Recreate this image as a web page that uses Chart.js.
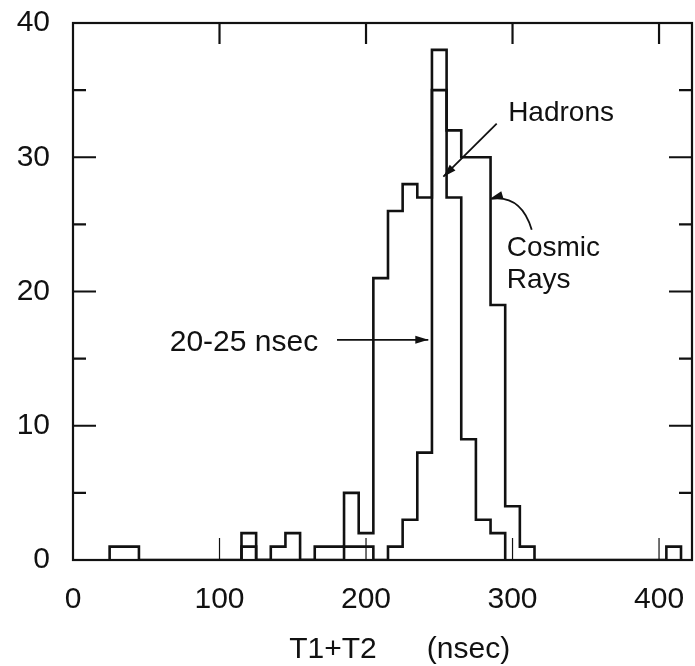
<!DOCTYPE html>
<html>
<head>
<meta charset="utf-8">
<script src="https://cdn.jsdelivr.net/npm/chart.js@4.4.1/dist/chart.umd.min.js"></script>
<style>
	html, body { margin: 0; padding: 0; background: #fff; }
	#wrap { width: 695px; height: 666px; }
</style>
</head>
<body>
<div id="wrap"><canvas id="mycanvas" width="695" height="666"></canvas></div>
<script>
// histogram bins, 10 nsec wide, given by their centres
const binWidth = 10;

// hadron events (narrow peak)
const hadronBins = [120, 190, 200, 220, 230, 240, 250, 260, 270, 280, 290];
const hadronCounts = [1, 1, 1, 1, 3, 8, 38, 27, 9, 3, 2];

// cosmic ray events (broad peak)
const cosmicBins = [30, 40, 120, 140, 150, 170, 180, 190, 200, 210, 220, 230, 240, 250, 260, 270, 280, 290, 300, 310, 410];
const cosmicCounts = [1, 1, 2, 1, 2, 1, 1, 5, 2, 21, 26, 28, 27, 35, 32, 30, 30, 19, 4, 1, 1];

const xTicks = [0, 100, 200, 300, 400];
const yTicks = [0, 10, 20, 30, 40];

const xTitle = 'T1+T2      (nsec)';

const FONT = '"Liberation Sans", Arial, sans-serif';

// turn bins into the outline of a histogram (stepped line)
const stepPoints = (centres, counts) => {
	const pts = [];
	let lastRight = null;
	centres.forEach((c, i) => {
		const left = c - binWidth / 2;
		if (lastRight !== left) {
			if (lastRight !== null) pts.push({ x: lastRight, y: 0 });
			pts.push({ x: left, y: 0 });
		}
		pts.push({ x: left, y: counts[i] });
		lastRight = c + binWidth / 2;
	});
	pts.push({ x: lastRight, y: 0 });
	return pts;
};

// arrow helper, head at (x2, y2)
const arrowHead = (ctx, x1, y1, x2, y2) => {
	const a = Math.atan2(y2 - y1, x2 - x1);
	const len = 13, half = 4;
	ctx.beginPath();
	ctx.moveTo(x2, y2);
	ctx.lineTo(x2 - len * Math.cos(a) + half * Math.sin(a), y2 - len * Math.sin(a) - half * Math.cos(a));
	ctx.lineTo(x2 - len * Math.cos(a) - half * Math.sin(a), y2 - len * Math.sin(a) + half * Math.cos(a));
	ctx.closePath();
	ctx.fill();
};

// no extra room for labels that stick out of the plot
const noPadding = (s) => {
	s.paddingLeft = 0;
	s.paddingRight = 0;
	s.paddingTop = 0;
	s.paddingBottom = 0;
};

// frame, inward ticks, labels and arrows
const framePlugin = {
	id: 'frame',
	afterDatasetsDraw(chart) {
		const { ctx, chartArea: a, scales } = chart;
		const xs = scales.x, ys = scales.y;
		const px = (v) => xs.getPixelForValue(v);
		const py = (v) => ys.getPixelForValue(v);
		ctx.save();
		ctx.strokeStyle = '#111';
		ctx.fillStyle = '#111';
		ctx.lineWidth = 2.2;
		ctx.strokeRect(a.left, a.top, a.right - a.left, a.bottom - a.top);

		// y ticks on both sides
		[5, 10, 15, 20, 25, 30, 35].forEach((v) => {
			const len = v % 10 === 0 ? 23 : 13;
			ctx.beginPath();
			ctx.moveTo(a.left, py(v));
			ctx.lineTo(a.left + len, py(v));
			ctx.moveTo(a.right, py(v));
			ctx.lineTo(a.right - len, py(v));
			ctx.stroke();
		});
		// x ticks top and bottom
		[100, 200, 300, 400].forEach((v) => {
			ctx.lineWidth = 2.2;
			ctx.beginPath();
			ctx.moveTo(px(v), a.top);
			ctx.lineTo(px(v), a.top + 21);
			ctx.stroke();
			ctx.lineWidth = 1.2;
			ctx.beginPath();
			ctx.moveTo(px(v), a.bottom);
			ctx.lineTo(px(v), a.bottom - 22);
			ctx.stroke();
		});

		ctx.lineWidth = 1.8;
		ctx.textBaseline = 'middle';
		ctx.textAlign = 'left';

		// Hadrons
		ctx.font = '28px ' + FONT;
		ctx.fillText('Hadrons', px(297), py(33.3));
		ctx.beginPath();
		ctx.moveTo(px(289.2), py(32.5));
		ctx.lineTo(px(252.8), py(28.55));
		ctx.stroke();
		arrowHead(ctx, px(289.2), py(32.5), px(252.8), py(28.55));

		// Cosmic Rays
		ctx.fillText('Cosmic', px(296), py(23.2));
		ctx.fillText('Rays', px(296), py(20.8));
		ctx.beginPath();
		ctx.moveTo(px(313.1), py(24.6));
		ctx.quadraticCurveTo(px(306), py(27.2), px(285.5), py(26.9));
		ctx.stroke();
		arrowHead(ctx, px(300), py(27.4), px(284.6), py(26.9));

		// width of the peak
		ctx.font = '30px ' + FONT;
		ctx.fillText('20-25 nsec', px(66), py(16.2));
		ctx.beginPath();
		ctx.moveTo(px(180.2), py(16.4));
		ctx.lineTo(px(242.5), py(16.4));
		ctx.stroke();
		arrowHead(ctx, px(180.2), py(16.4), px(242.5), py(16.4));

		// x axis title
		ctx.textAlign = 'center';
		ctx.fillText(xTitle, px(223), 650);
		ctx.restore();
	},
};

const lineStyle = {
	borderColor: '#111',
	borderWidth: 2.6,
	pointRadius: 0,
	fill: false,
	stepped: 'before',
	tension: 0,
};

new Chart(document.getElementById('mycanvas'), {
	type: 'line',
	data: {
		datasets: [
			{ label: 'Hadrons', data: stepPoints(hadronBins, hadronCounts), ...lineStyle },
			{ label: 'Cosmic Rays', data: stepPoints(cosmicBins, cosmicCounts), ...lineStyle },
		],
	},
	options: {
		responsive: false,
		animation: false,
		layout: { padding: { left: 0, right: 3, top: 23, bottom: 0 } },
		plugins: {
			legend: { display: false },
			tooltip: { enabled: false },
		},
		scales: {
			x: {
				type: 'linear',
				min: 0,
				max: 422.5,
				afterFit: (s) => { s.height = 106; noPadding(s); },
				afterBuildTicks: (s) => { s.ticks = xTicks.map((v) => ({ value: v })); },
				grid: { display: false, drawTicks: false },
				border: { display: false },
				ticks: {
					color: '#111',
					padding: 22,
					font: { family: FONT, size: 30 },
				},
			},
			y: {
				min: 0,
				max: 40,
				afterFit: (s) => { s.width = 73; noPadding(s); },
				afterBuildTicks: (s) => { s.ticks = yTicks.map((v) => ({ value: v })); },
				grid: { display: false, drawTicks: false },
				border: { display: false },
				ticks: {
					color: '#111',
					padding: 23,
					font: { family: FONT, size: 30 },
				},
			},
		},
	},
	plugins: [framePlugin],
});
</script>
</body>
</html>
